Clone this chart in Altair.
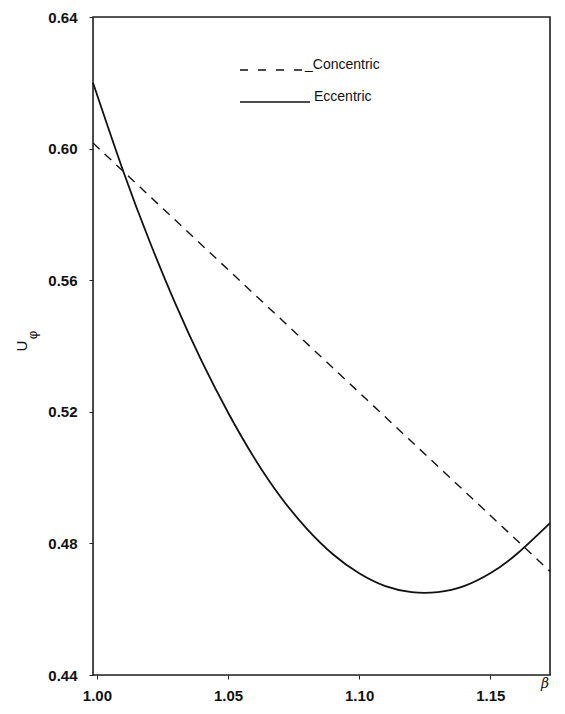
import altair as alt
import pandas as pd

# Data
conc_x = [0.9985, 1.1728]
conc_y = [0.6017, 0.4715]

ecc_x = [0.9985, 1.01, 1.02, 1.03, 1.04, 1.05, 1.06, 1.07, 1.08, 1.09, 1.10,
         1.11, 1.12, 1.13, 1.14, 1.15, 1.16, 1.1728]
ecc_y = [0.620, 0.5932, 0.5720, 0.5527, 0.5353, 0.5198, 0.5060, 0.4942, 0.4845,
         0.4767, 0.4709, 0.4670, 0.4652, 0.4652, 0.4670, 0.4709, 0.4767, 0.4862]

x_ticks = [1.00, 1.05, 1.10, 1.15]
y_ticks = [0.44, 0.48, 0.52, 0.56, 0.60, 0.64]
x_domain = [0.9985, 1.1728]
y_domain = [0.44, 0.64]

W, H = 457, 658

conc = pd.DataFrame({"x": conc_x, "y": conc_y})
ecc = pd.DataFrame({"x": ecc_x, "y": ecc_y})

xs = alt.Scale(domain=x_domain, nice=False, zero=False)
ys = alt.Scale(domain=y_domain, nice=False, zero=False)

lab_font = "Liberation Sans"

xaxis = alt.Axis(values=x_ticks, format=".2f", title=None, grid=False,
                 domain=False, tickSize=4, tickColor="#222", labelFont=lab_font,
                 labelFontSize=15, labelFontWeight="bold", labelColor="#111",
                 labelPadding=9, labelFlush=False)
yaxis = alt.Axis(values=y_ticks, format=".2f", title=None, grid=False,
                 domain=False, tickSize=4, tickColor="#222", labelFont=lab_font,
                 labelFontSize=15, labelFontWeight="bold", labelColor="#111",
                 labelPadding=12)

frame = alt.Chart(pd.DataFrame({"a": [0]})).mark_rect(
    fill=None, stroke="#222", strokeWidth=1.6).encode(
    x=alt.value(0), x2=alt.value(W), y=alt.value(0), y2=alt.value(H))

ecc_line = alt.Chart(ecc).mark_line(color="#111", strokeWidth=1.8,
                                    interpolate="natural").encode(
    x=alt.X("x:Q", scale=xs, axis=xaxis),
    y=alt.Y("y:Q", scale=ys, axis=yaxis),
)

conc_line = alt.Chart(conc).mark_line(color="#111", strokeWidth=1.4,
                                      strokeDash=[9, 7]).encode(
    x=alt.X("x:Q", scale=xs),
    y=alt.Y("y:Q", scale=ys),
)

# Legend drawn inside the plot
leg_dash = alt.Chart(pd.DataFrame({"a": [0]})).mark_rule(
    color="#111", strokeWidth=1.6, strokeDash=[8, 10]).encode(
    x=alt.value(147), x2=alt.value(211), y=alt.value(53))
leg_solid = alt.Chart(pd.DataFrame({"a": [0]})).mark_rule(
    color="#111", strokeWidth=1.6).encode(
    x=alt.value(147), x2=alt.value(217), y=alt.value(85))
leg_text = alt.Chart(pd.DataFrame({"t": ["_Concentric", "Eccentric"],
                                   "px": [212, 221], "py": [48, 80]})).mark_text(
    align="left", baseline="middle", font=lab_font, fontSize=14, color="#111").encode(
    x=alt.X("px:Q", scale=None), y=alt.Y("py:Q", scale=None), text="t:N")

# Axis titles
beta = alt.Chart(pd.DataFrame({"t": ["β"]})).mark_text(
    font="DejaVu Serif", fontStyle="italic", fontSize=14, color="#111",
    align="center", baseline="middle").encode(
    x=alt.value(452), y=alt.value(667), text="t:N")
u_lab = alt.Chart(pd.DataFrame({"t": ["U"]})).mark_text(
    font=lab_font, fontSize=15, color="#111", angle=270,
    align="center", baseline="middle").encode(
    x=alt.value(-71), y=alt.value(329), text="t:N")
phi_lab = alt.Chart(pd.DataFrame({"t": ["φ"]})).mark_text(
    font=lab_font, fontSize=13, color="#111", angle=270,
    align="center", baseline="middle").encode(
    x=alt.value(-60), y=alt.value(318), text="t:N")

chart = alt.layer(frame, conc_line, ecc_line, leg_dash, leg_solid, leg_text,
                  beta, u_lab, phi_lab).properties(
    width=W, height=H,
    autosize=alt.AutoSizeParams(type="none"),
    padding={"left": 85, "top": 9, "right": 7, "bottom": 34},
).configure_view(stroke=None).configure(background="white")

chart.save("out.html", embed_options={"renderer": "svg", "actions": False})
